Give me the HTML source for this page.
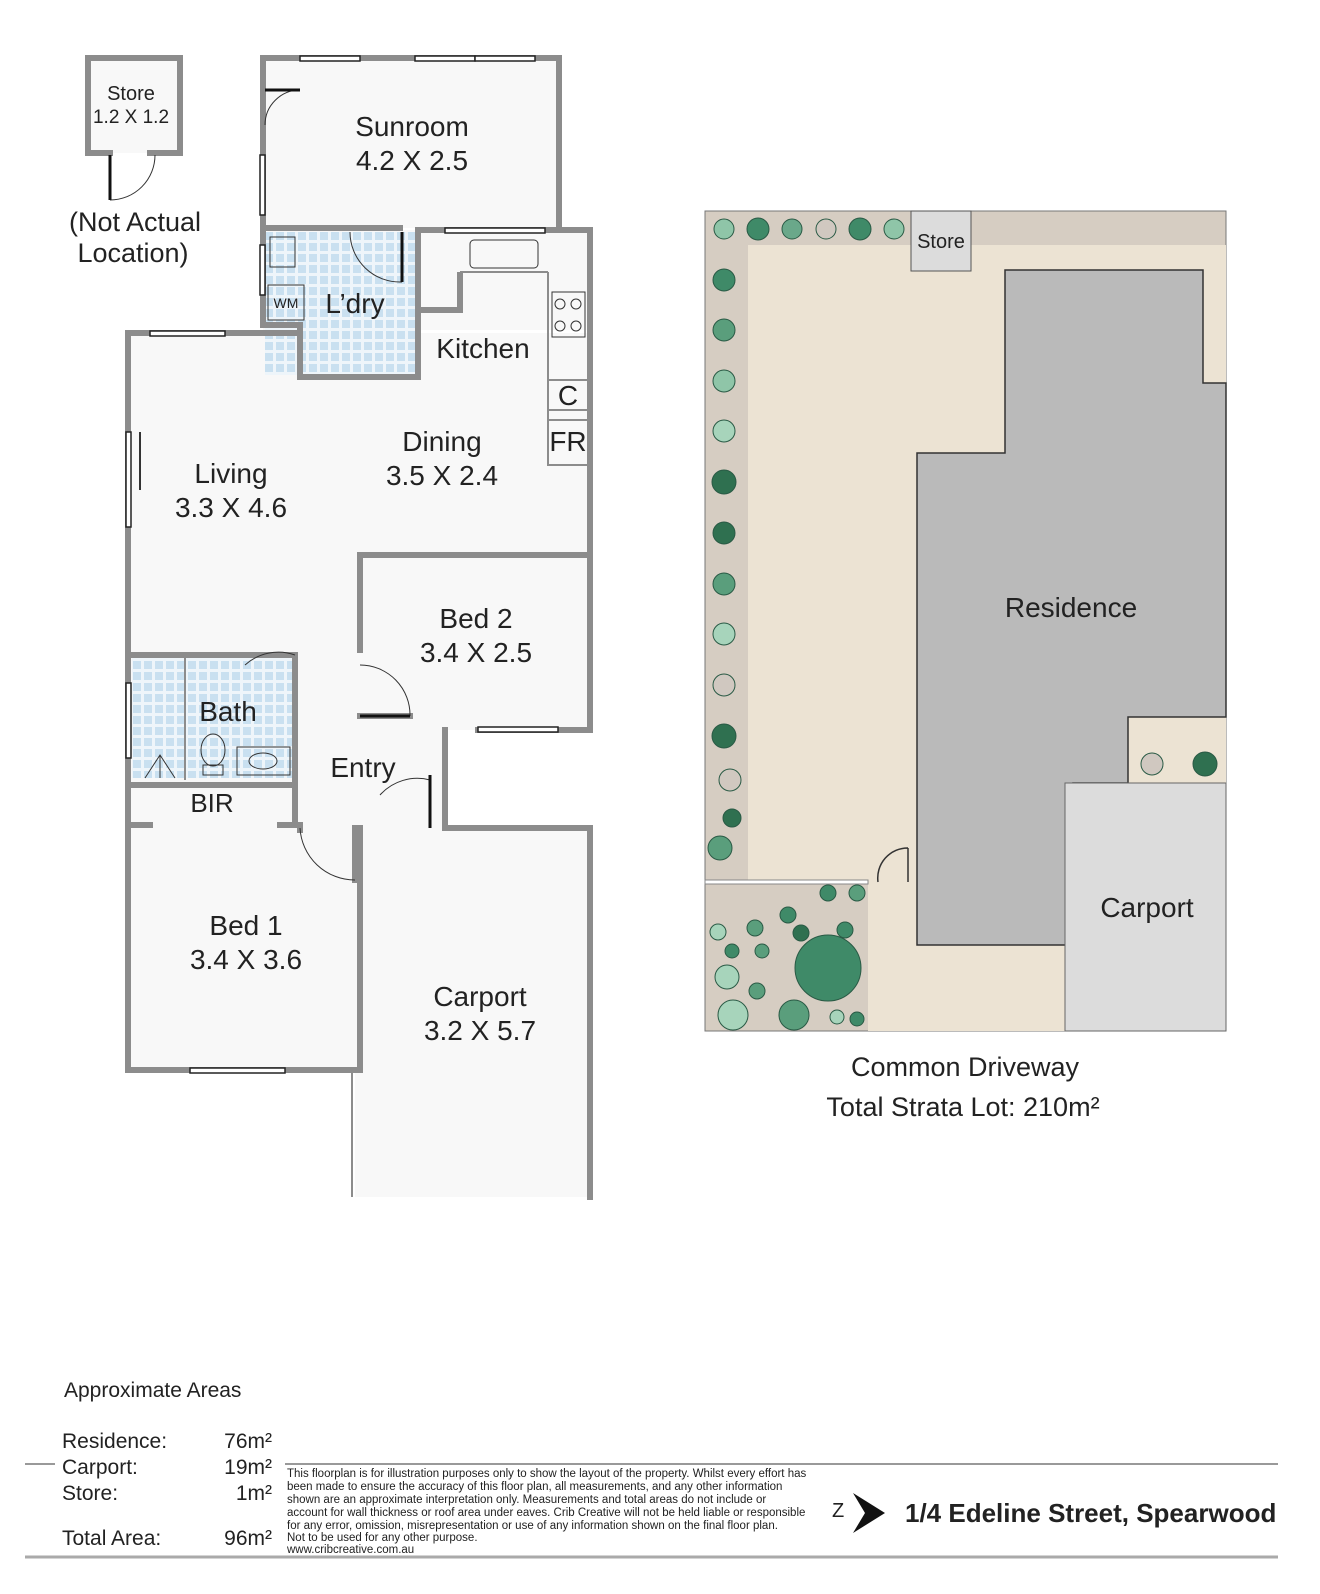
<!DOCTYPE html>
<html><head><meta charset="utf-8"><style>
html,body{margin:0;padding:0;background:#fff;}
svg text{font-family:"Liberation Sans",sans-serif;fill:#222;}
</style></head><body>
<svg width="1320" height="1589" viewBox="0 0 1320 1589" xmlns="http://www.w3.org/2000/svg">
<defs>
<pattern id="tile" width="11" height="11" patternUnits="userSpaceOnUse"><rect width="11" height="11" fill="#eef5fa"/><rect x="1" y="1" width="8" height="8" fill="#c9e0f0"/></pattern>
</defs>
<g fill="#f8f8f8">
<rect x="263" y="58" width="296" height="170"/>
<rect x="263" y="230" width="327" height="100"/>
<rect x="128" y="333" width="462" height="222"/>
<rect x="128" y="555" width="232" height="515"/>
<rect x="360" y="555" width="230" height="175"/>
<rect x="360" y="730" width="85" height="100"/>
<rect x="355" y="828" width="235" height="369"/>
<rect x="88" y="58" width="92" height="95"/>
</g>
<rect x="265" y="232" width="152" height="143" fill="url(#tile)"/>
<rect x="132" y="658" width="163" height="120" fill="url(#tile)"/>
<g stroke="#8c8c8c" stroke-width="6" fill="none" stroke-linecap="square">
<path d="M263 58 H559 V228"/>
<path d="M263 58 V228 H400"/>
<path d="M263 228 V325 H300 V377 H418 V230 H590 V730 H478"/>
<path d="M300 333 H128 V1070 H360 V828"/>
<path d="M360 555 H590"/>
<path d="M360 555 V650"/>
<path d="M360 716 H410"/>
<path d="M418 230 V310 H460 V275"/>
<path d="M128 655 H295"/>
<path d="M128 785 H295 V825 H280"/>
<path d="M128 825 H150"/>
<path d="M295 655 V780"/>
<path d="M445 730 V828 H590 V1197"/>
<path d="M355 828 V880"/>
<path d="M300 825 V830"/>
<path d="M88 58 H180 V153 H150"/>
<path d="M88 58 V153 H110"/>
</g>
<g stroke="#8c8c8c" stroke-width="2" fill="none">
<line x1="352" y1="1070" x2="352" y2="1197"/>
<path d="M460 272 H548 M548 272 V465 H588"/>
<rect x="548" y="380" width="40" height="30"/>
<rect x="548" y="420" width="40" height="45"/>
<path d="M185 655 V780"/>
</g>
<g fill="#fff" stroke="#222" stroke-width="1.5">
<rect x="300" y="56" width="60" height="5"/><rect x="415" y="56" width="60" height="5"/><rect x="475" y="56" width="60" height="5"/>
<rect x="260" y="155" width="5" height="60"/>
<rect x="445" y="228" width="100" height="5"/>
<rect x="150" y="331" width="75" height="5"/>
<rect x="126" y="432" width="5" height="95"/>
<rect x="126" y="683" width="5" height="75"/>
<rect x="478" y="727" width="80" height="5"/>
<rect x="190" y="1068" width="95" height="5"/>
<rect x="260" y="245" width="5" height="50"/>
</g>
<g stroke="#333" stroke-width="1" fill="none">
<path d="M265 125 A35 35 0 0 1 300 90"/><line x1="265" y1="90" x2="300" y2="90" stroke-width="3" stroke="#111"/>
<path d="M110 200 A45 45 0 0 0 155 155"/><line x1="110" y1="155" x2="110" y2="200" stroke-width="3" stroke="#111"/>
<path d="M350 232 A50 50 0 0 0 402 282"/><line x1="402" y1="232" x2="402" y2="282" stroke-width="3" stroke="#111"/>
<path d="M360 665 A50 50 0 0 1 410 716"/><line x1="360" y1="716" x2="410" y2="716" stroke-width="3" stroke="#111"/>
<path d="M380 795 A50 50 0 0 1 430 780"/><line x1="430" y1="775" x2="430" y2="828" stroke-width="3" stroke="#111"/>
<path d="M300 828 A55 55 0 0 0 355 880"/>
<path d="M245 665 A50 50 0 0 1 295 655"/>
<rect x="270" y="237" width="25" height="30"/><rect x="268" y="285" width="36" height="35"/>
<rect x="470" y="240" width="68" height="28" rx="4"/><rect x="552" y="292" width="33" height="45"/>
<circle cx="560" cy="304" r="5"/><circle cx="576" cy="304" r="5"/><circle cx="560" cy="326" r="5"/><circle cx="576" cy="326" r="5"/>
<rect x="237" y="747" width="53" height="28"/><ellipse cx="263" cy="761" rx="14" ry="8"/>
<ellipse cx="213" cy="750" rx="12" ry="16"/><rect x="203" y="765" width="20" height="10"/>
<path d="M145 778 L160 755 L175 778 M160 755 V778"/>
<line x1="140" y1="432" x2="140" y2="490" stroke-width="2"/>
</g>
<g text-anchor="middle" font-size="28">
<text x="131" y="100" font-size="20">Store</text>
<text x="131" y="123" font-size="19">1.2 X 1.2</text>
<text x="135" y="231" font-size="27">(Not Actual</text>
<text x="133" y="262" font-size="27">Location)</text>
<text x="412" y="136">Sunroom</text><text x="412" y="170">4.2 X 2.5</text>
<text x="286" y="308" font-size="14">WM</text>
<text x="355" y="313">L’dry</text>
<text x="483" y="358">Kitchen</text>
<text x="568" y="405">C</text><text x="568" y="451">FR</text>
<text x="442" y="451">Dining</text><text x="442" y="485">3.5 X 2.4</text>
<text x="231" y="483">Living</text><text x="231" y="517">3.3 X 4.6</text>
<text x="476" y="628">Bed 2</text><text x="476" y="662">3.4 X 2.5</text>
<text x="228" y="721">Bath</text>
<text x="363" y="777">Entry</text>
<text x="212" y="812" font-size="26">BIR</text>
<text x="246" y="935">Bed 1</text><text x="246" y="969">3.4 X 3.6</text>
<text x="480" y="1006">Carport</text><text x="480" y="1040">3.2 X 5.7</text>
</g>
<rect x="705" y="211" width="521" height="820" fill="#d6cdc2" stroke="#777" stroke-width="1"/>
<rect x="748" y="245" width="478" height="637" fill="#ece3d3"/>
<rect x="868" y="882" width="358" height="149" fill="#ece3d3"/>
<rect x="705" y="880" width="163" height="4" fill="#fff" stroke="#888" stroke-width="1"/>
<rect x="911" y="211" width="60" height="60" fill="#dcdcdc" stroke="#555" stroke-width="1"/>
<polygon points="1005,270 1203,270 1203,383 1226,383 1226,717 1128,717 1128,783 1073,783 1073,945 917,945 917,453 1005,453" fill="#bababa" stroke="#333" stroke-width="1.5"/>
<rect x="1065" y="783" width="161" height="248" fill="#dcdcdc" stroke="#666" stroke-width="1"/>
<g fill="#3f8a68" stroke="#2a5a45" stroke-width="1">
<circle cx="724" cy="229" r="10" fill="#8fc5a8"/><circle cx="758" cy="229" r="11"/><circle cx="792" cy="229" r="10" fill="#6aa88a"/><circle cx="826" cy="229" r="10" fill="#d0c8c0"/><circle cx="860" cy="229" r="11"/><circle cx="894" cy="229" r="10" fill="#8fc5a8"/>
<circle cx="724" cy="280" r="11"/><circle cx="724" cy="330" r="11" fill="#5a9e7c"/><circle cx="724" cy="381" r="11" fill="#8fc5a8"/><circle cx="724" cy="431" r="11" fill="#a7d4bb"/><circle cx="724" cy="482" r="12" fill="#2f7050"/><circle cx="724" cy="533" r="11" fill="#2f7050"/><circle cx="724" cy="584" r="11" fill="#5a9e7c"/><circle cx="724" cy="634" r="11" fill="#a7d4bb"/><circle cx="724" cy="685" r="11" fill="#d0c8c0"/><circle cx="724" cy="736" r="12" fill="#2f7050"/><circle cx="730" cy="780" r="11" fill="#d0c8c0"/><circle cx="732" cy="818" r="9" fill="#2f7050"/><circle cx="720" cy="848" r="12" fill="#5a9e7c"/>
<circle cx="1152" cy="764" r="11" fill="#d0c8c0"/><circle cx="1205" cy="764" r="12" fill="#2f7050"/>
<circle cx="828" cy="968" r="33" fill="#3f8a68"/>
<circle cx="828" cy="893" r="8"/><circle cx="857" cy="893" r="8" fill="#5a9e7c"/><circle cx="788" cy="915" r="8"/><circle cx="801" cy="933" r="8" fill="#2f7050"/><circle cx="845" cy="930" r="8"/><circle cx="718" cy="932" r="8" fill="#a7d4bb"/><circle cx="755" cy="928" r="8" fill="#5a9e7c"/><circle cx="732" cy="951" r="7"/><circle cx="762" cy="951" r="7" fill="#5a9e7c"/><circle cx="727" cy="977" r="12" fill="#a7d4bb"/><circle cx="757" cy="991" r="8" fill="#5a9e7c"/><circle cx="733" cy="1015" r="15" fill="#a7d4bb"/><circle cx="794" cy="1015" r="15" fill="#5a9e7c"/><circle cx="837" cy="1017" r="7" fill="#a7d4bb"/><circle cx="857" cy="1019" r="7"/>
</g>
<path d="M878 882 A30 30 0 0 1 908 848 M908 848 V882" stroke="#333" fill="none" stroke-width="1.5"/>
<g text-anchor="middle">
<text x="941" y="248" font-size="20">Store</text>
<text x="1071" y="617" font-size="28">Residence</text>
<text x="1147" y="917" font-size="28">Carport</text>
<text x="965" y="1076" font-size="27">Common Driveway</text>
<text x="963" y="1116" font-size="27">Total Strata Lot: 210m²</text>
</g>
<line x1="25" y1="1464" x2="55" y2="1464" stroke="#999" stroke-width="2"/>
<line x1="285" y1="1464" x2="1278" y2="1464" stroke="#999" stroke-width="2"/>
<line x1="25" y1="1557" x2="1278" y2="1557" stroke="#aaa" stroke-width="3"/>
<g font-size="21" fill="#333">
<text x="64" y="1397">Approximate Areas</text>
<text x="62" y="1448">Residence:</text><text x="272" y="1448" text-anchor="end">76m²</text>
<text x="62" y="1474">Carport:</text><text x="272" y="1474" text-anchor="end">19m²</text>
<text x="62" y="1500">Store:</text><text x="272" y="1500" text-anchor="end">1m²</text>
<text x="62" y="1545">Total Area:</text><text x="272" y="1545" text-anchor="end">96m²</text>
</g>
<g font-size="11.5" fill="#444">
<text x="287" y="1477">This floorplan is for illustration purposes only to show the layout of the property. Whilst every effort has</text>
<text x="287" y="1490">been made to ensure the accuracy of this floor plan, all measurements, and any other information</text>
<text x="287" y="1503">shown are an approximate interpretation only. Measurements and total areas do not include or</text>
<text x="287" y="1516">account for wall thickness or roof area under eaves. Crib Creative will not be held liable or responsible</text>
<text x="287" y="1529">for any error, omission, misrepresentation or use of any information shown on the final floor plan.</text>
<text x="287" y="1541">Not to be used for any other purpose.</text>
<text x="287" y="1553">www.cribcreative.com.au</text>
</g>
<text x="832" y="1517" font-size="20">Z</text>
<polygon points="853,1493 885,1513 853,1533 865,1513" fill="#111"/>
<text x="905" y="1522" font-size="26" font-weight="bold" fill="#111">1/4 Edeline Street, Spearwood</text>
</svg>
</body></html>
